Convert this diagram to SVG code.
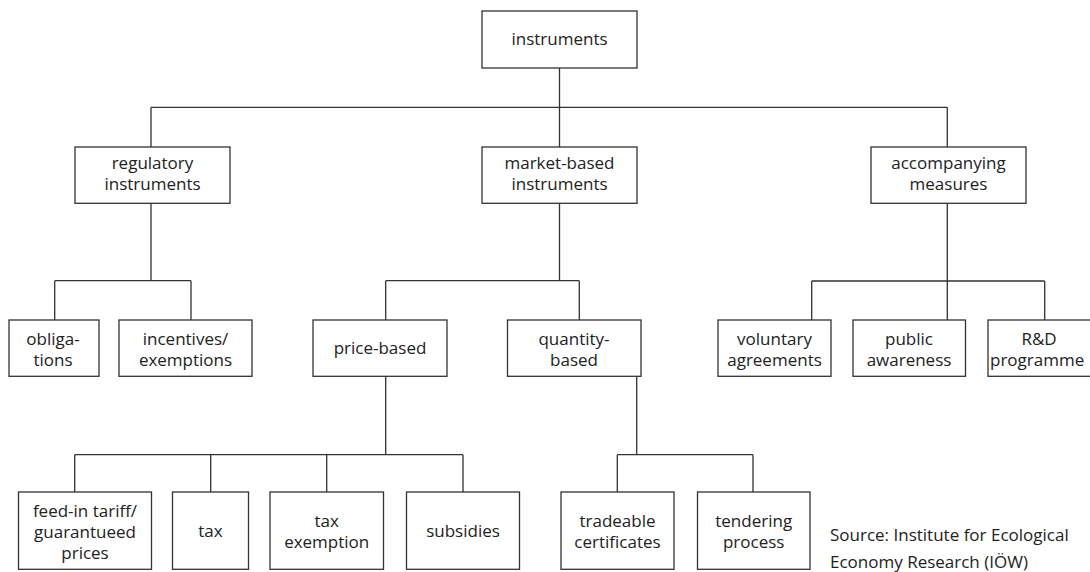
<svg xmlns="http://www.w3.org/2000/svg" width="1090" height="572" viewBox="0 0 1090 572">
<style>
.box{fill:#fff;stroke:#333;stroke-width:1.3}
.ln{fill:none;stroke:#333;stroke-width:1.3}
text{font-family:"Open Sans","Noto Sans","Liberation Sans",sans-serif;font-size:17px;fill:#222;text-anchor:middle}
.src{text-anchor:start}
</style>
<rect width="1090" height="572" fill="#fff"/>
<g id="connectors" class="ln">
<path d="M559.5 68V147"/>
<path d="M151 107.3H947.3M151 107.3V147M947.3 107.3V147"/>
<path d="M151 203.3V280.7M54.7 280.7H191M54.7 280.7V320M191 280.7V320"/>
<path d="M559.5 203.3V280.7M385.7 280.7H579.3M385.7 280.7V320M579.3 280.7V320"/>
<path d="M947.3 203.3V281M811.7 281H1044.7M811.7 281V320M947.3 281V320M1044.7 281V320"/>
<path d="M385.7 376.3V454.7M74.7 454.7H463M74.7 454.7V492M210.7 454.7V492M326.7 454.7V492M463 454.7V492"/>
<path d="M636.7 376.3V454.7M617.3 454.7H753M617.3 454.7V492M753 454.7V492"/>
</g>
<g id="n-instruments"><rect class="box" x="482" y="11" width="155" height="57"/><text x="559.5" y="45">instruments</text></g>
<g id="n-regulatory"><rect class="box" x="75" y="147" width="155" height="56.3"/><text x="152.5" y="169">regulatory</text><text x="152.5" y="190">instruments</text></g>
<g id="n-market"><rect class="box" x="482" y="147" width="155" height="56.3"/><text x="559.5" y="169">market-based</text><text x="559.5" y="190">instruments</text></g>
<g id="n-accompanying"><rect class="box" x="871" y="147" width="155" height="56.3"/><text x="948.5" y="168.5">accompanying</text><text x="948.5" y="189.5">measures</text></g>
<g id="n-obligations"><rect class="box" x="9" y="320" width="90" height="56.3"/><text x="53" y="344.5">obliga-</text><text x="53" y="365.5">tions</text></g>
<g id="n-incentives"><rect class="box" x="119" y="320" width="133" height="56.3"/><text x="185.5" y="344.5">incentives/</text><text x="185.5" y="365.5">exemptions</text></g>
<g id="n-price"><rect class="box" x="313" y="320" width="134" height="56.3"/><text x="380" y="354">price-based</text></g>
<g id="n-quantity"><rect class="box" x="507.5" y="320" width="133.5" height="56.3"/><text x="574" y="344.5">quantity-</text><text x="574" y="365.5">based</text></g>
<g id="n-voluntary"><rect class="box" x="718" y="320" width="113" height="56.3"/><text x="774.5" y="344.5">voluntary</text><text x="774.5" y="365.5">agreements</text></g>
<g id="n-public"><rect class="box" x="853" y="320" width="112.5" height="56.3"/><text x="909" y="344.5">public</text><text x="909" y="365.5">awareness</text></g>
<g id="n-rd"><rect class="box" x="988" y="320" width="120" height="56.3"/><text x="1039" y="344.5">R&amp;D</text><text class="src" x="990" y="365.5">programme</text></g>
<g id="n-feedin"><rect class="box" x="18.5" y="492" width="133" height="77.3"/><text x="85" y="516.5">feed-in tariff/</text><text x="85" y="537.5">guarantueed</text><text x="85" y="558.5">prices</text></g>
<g id="n-tax"><rect class="box" x="172.5" y="492" width="76" height="77.3"/><text x="210.5" y="536.5">tax</text></g>
<g id="n-taxexemption"><rect class="box" x="270" y="492" width="113.5" height="77.3"/><text x="326.7" y="526.5">tax</text><text x="326.7" y="547.5">exemption</text></g>
<g id="n-subsidies"><rect class="box" x="406.5" y="492" width="113" height="77.3"/><text x="463" y="536.5">subsidies</text></g>
<g id="n-tradeable"><rect class="box" x="561" y="492" width="113" height="77.3"/><text x="617.5" y="527">tradeable</text><text x="617.5" y="548">certificates</text></g>
<g id="n-tendering"><rect class="box" x="697.5" y="492" width="112.5" height="77.3"/><text x="753.7" y="527">tendering</text><text x="753.7" y="548">process</text></g>
<g id="source"><text class="src" x="830" y="541">Source: Institute for Ecological</text><text class="src" x="830" y="568">Economy Research (IÖW)</text></g>
</svg>
